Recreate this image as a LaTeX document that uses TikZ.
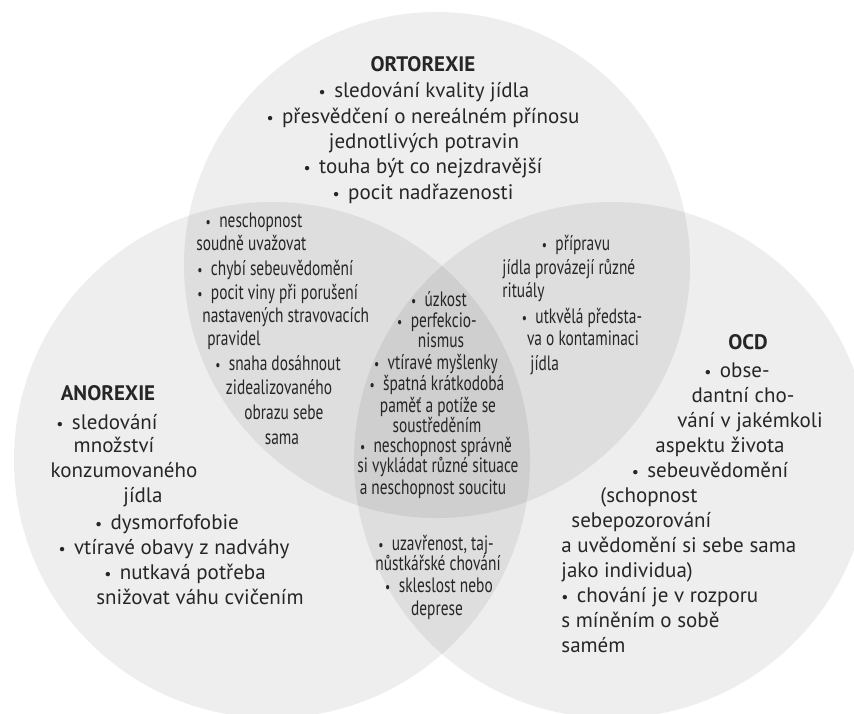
\documentclass[tikz,border=0pt]{standalone}
\usepackage{fontspec}
\setmainfont{PT Sans}
\newfontfamily\condfont{PT Sans}[FakeStretch=0.74]
\definecolor{textgray}{RGB}{38,38,38}
\newcommand{\bul}{\scalebox{0.75}{\textbullet}\hspace{0.4em}}

\begin{document}
\begin{tikzpicture}[x=0.5pt,y=-0.5pt,
	set/.style={fill=black,fill opacity=0.065},
	lab/.style={text=textgray,font={\fontsize{10.5}{12}\selectfont},anchor=base,inner sep=0pt},
	labl/.style={lab,anchor=base west},
	nar/.style={lab,font={\condfont\fontsize{10.4}{12}\selectfont}},
	narl/.style={nar,anchor=base west}]
	\useasboundingbox (0,0) rectangle (854,713);
	\fill[white] (0,0) rectangle (854,713);
	\clip (0,0) rectangle (854,713);

	% circles
	\fill[set] (437,265) circle (253);
	\fill[set] (272,460) circle (258);
	\fill[set] (612,460) circle (258);

	% ortorexie
	\node[lab] (ort1) at (423,71) {\textbf{ORTOREXIE}};
	\node[lab] (ort2) at (424,97) {\bul sledování kvality jídla};
	\node[lab] (ort3) at (423,123) {\bul přesvědčení o nereálném přínosu};
	\node[lab] (ort4) at (424,148) {jednotlivých potravin};
	\node[lab] (ort5) at (423,173) {\bul touha být co nejzdravější};
	\node[lab] (ort6) at (423,199) {\bul pocit nadřazenosti};

	% anorexie
	\node[lab] (ano1) at (108,400) {\textbf{ANOREXIE}};
	\node[lab] (ano2) at (107,429) {\bul sledování};
	\node[lab] (ano3) at (114,452) {množství};
	\node[lab] (ano4) at (124,477) {konzumovaného};
	\node[lab] (ano5) at (143,502) {jídla};
	\node[lab] (ano6) at (167,529) {\bul dysmorfofobie};
	\node[lab] (ano7) at (174,554) {\bul vtíravé obavy z nadváhy};
	\node[lab] (ano8) at (185,579) {\bul nutkavá potřeba};
	\node[lab] (ano9) at (200,604) {snižovat váhu cvičením};

	% ocd
	\node[lab] (ocd1) at (748,349) {\textbf{OCD}};
	\node[lab] (ocd2) at (737,377) {\bul obse-};
	\node[lab] (ocd3) at (743,402) {dantní cho-};
	\node[lab] (ocd4) at (750,427) {vání v jakémkoli};
	\node[lab] (ocd5) at (720,452) {aspektu života};
	\node[lab] (ocd6) at (710,477) {\bul sebeuvědomění};
	\node[labl] (ocd7) at (600,502) {(schopnost};
	\node[labl] (ocd8) at (571,527) {sebepozorování};
	\node[labl] (ocd9) at (561,552) {a uvědomění si sebe sama};
	\node[labl] (ocd10) at (561,577) {jako individua)};
	\node[labl] (ocd11) at (561,602) {\bul chování je v rozporu};
	\node[labl] (ocd12) at (561,627) {s míněním o sobě};
	\node[labl] (ocd13) at (561,652) {samém};

	% ortorexie + anorexie
	\node[nar] (oa1) at (254,227) {\bul neschopnost};
	\node[narl] (oa2) at (196,250) {soudně uvažovat};
	\node[narl] (oa3) at (197,275) {\bul chybí sebeuvědomění};
	\node[narl] (oa4) at (197,299) {\bul pocit viny při porušení};
	\node[narl] (oa5) at (202,322) {nastavených stravovacích};
	\node[narl] (oa6) at (207,345) {pravidel};
	\node[nar] (oa7) at (278,370) {\bul snaha dosáhnout};
	\node[nar] (oa8) at (279,394) {zidealizovaného};
	\node[nar] (oa9) at (284,419) {obrazu sebe};
	\node[nar] (oa10) at (282,444) {sama};

	% ortorexie + ocd
	\node[nar] (oc1) at (576,250) {\bul přípravu};
	\node[narl] (oc2) at (502,274) {jídla provázejí různé};
	\node[narl] (oc3) at (502,297) {rituály};
	\node[nar] (oc4) at (582,323) {\bul utkvělá předsta-};
	\node[nar] (oc5) at (583,345) {va o kontaminaci};
	\node[narl] (oc6) at (530,370) {jídla};

	% all three
	\node[nar] (mid1) at (439,306) {\bul úzkost};
	\node[nar] (mid2) at (437,327) {\bul perfekcio-};
	\node[nar] (mid3) at (441,347) {nismus};
	\node[nar] (mid4) at (436,369) {\bul vtíravé myšlenky};
	\node[nar] (mid5) at (437,390) {\bul špatná krátkodobá};
	\node[nar] (mid6) at (438,412) {paměť a potíže se};
	\node[nar] (mid7) at (437,432) {soustředěním};
	\node[nar] (mid8) at (436,452) {\bul neschopnost správně};
	\node[nar] (mid9) at (438,472) {si vykládat různé situace};
	\node[nar] (mid10) at (433,494) {a neschopnost soucitu};

	% anorexie + ocd
	\node[nar] (ac1) at (436,550) {\bul uzavřenost, taj-};
	\node[nar] (ac2) at (438,570) {nůstkářské chování};
	\node[nar] (ac3) at (439,592) {\bul skleslost nebo};
	\node[nar] (ac4) at (437,615) {deprese};
\end{tikzpicture}
\end{document}
